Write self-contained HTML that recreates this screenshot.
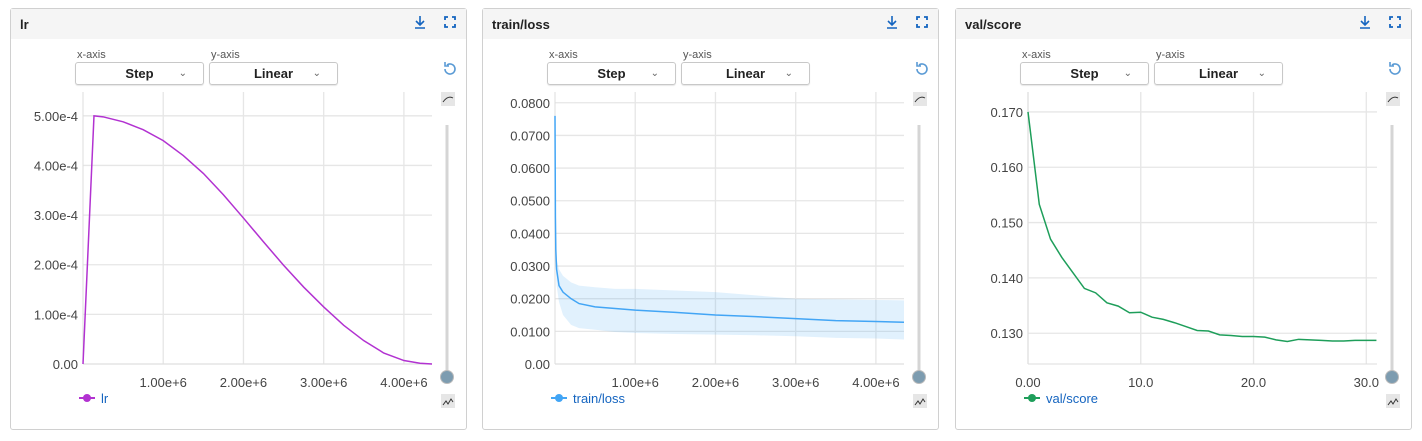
<!DOCTYPE html>
<html><head><meta charset="utf-8">
<style>
body{margin:0;width:1422px;height:441px;background:#fff;font-family:"Liberation Sans",sans-serif;overflow:hidden;position:relative}
.panel{position:absolute;top:8px;width:455px;height:420px;border:1px solid #d0d0d0;border-radius:3px;background:#fff}
.hdr{height:30px;background:#f5f5f5;position:relative}
.ttl{position:absolute;left:9px;top:8px;font-size:13px;font-weight:bold;color:#222}
.lbl{position:absolute;top:40px;font-size:11px;color:#555}
.dd{position:absolute;top:53px;width:127px;height:21px;border:1px solid #c8c8c8;border-radius:3px;font-size:13px;font-weight:bold;text-align:center;line-height:21px;color:#222;box-shadow:0 1px 1px rgba(0,0,0,.1)}
.dd span{position:absolute;right:16px;top:0;font-weight:normal;font-size:10px;color:#666}
svg{position:absolute;left:0;top:0}
</style></head><body>
<script>
const lrX=[0,0.137,0.25,0.5,0.75,1.0,1.25,1.5,1.75,2.0,2.25,2.5,2.75,3.0,3.25,3.5,3.75,4.0,4.2,4.35];
const lrY=[0,5.0,4.98,4.88,4.72,4.5,4.2,3.84,3.41,2.94,2.46,1.99,1.55,1.15,0.78,0.47,0.22,0.07,0.015,0];
const lossX=[0,0.005,0.01,0.02,0.05,0.1,0.2,0.3,0.5,0.75,1.0,1.5,2.0,2.5,3.0,3.5,4.0,4.35];
const lossY=[0.076,0.045,0.035,0.029,0.024,0.022,0.020,0.0185,0.0175,0.017,0.0165,0.0158,0.015,0.0145,0.0139,0.0133,0.013,0.0128];
const lossHi=[0.076,0.05,0.04,0.032,0.029,0.027,0.025,0.024,0.0235,0.023,0.023,0.0225,0.022,0.021,0.020,0.0198,0.0196,0.0195];
const lossLo=[0.076,0.04,0.03,0.024,0.019,0.015,0.012,0.011,0.0105,0.0098,0.0095,0.0092,0.009,0.0088,0.0085,0.008,0.0078,0.0075];
const valX=[0,1,2,3,4,5,6,7,8,9,10,11,12,13,14,15,16,17,18,19,20,21,22,23,24,25,26,27,28,29,30,30.9];
const valY=[0.170,0.1533,0.147,0.1437,0.1409,0.1381,0.1373,0.1355,0.1349,0.1337,0.1338,0.1329,0.1325,0.1319,0.1312,0.1305,0.1304,0.1297,0.1296,0.1294,0.1294,0.1293,0.1288,0.1285,0.1289,0.1288,0.1287,0.1286,0.1286,0.1287,0.1287,0.1287];
const lrTicksY=[0,1,2,3,4,5], lrTickLab=["0.00","1.00e-4","2.00e-4","3.00e-4","4.00e-4","5.00e-4"];
const bigTicksX=[1,2,3,4], bigTickLab=["1.00e+6","2.00e+6","3.00e+6","4.00e+6"];
const lossTicksY=[0,0.01,0.02,0.03,0.04,0.05,0.06,0.07,0.08], lossTickLab=["0.00","0.0100","0.0200","0.0300","0.0400","0.0500","0.0600","0.0700","0.0800"];
const valTicksY=[0.13,0.14,0.15,0.16,0.17], valTickLab=["0.130","0.140","0.150","0.160","0.170"];
const valTicksX=[0,10,20,30], valTickXLab=["0.00","10.0","20.0","30.0"];
const NS="http://www.w3.org/2000/svg";
function mk(tag,attrs,parent){const e=document.createElementNS(NS,tag);for(const k in attrs)e.setAttribute(k,attrs[k]);parent.appendChild(e);return e;}
function smoothPath(pts){
  let d='M'+pts[0][0]+' '+pts[0][1];
  for(let i=0;i<pts.length-1;i++){
    const p0=pts[Math.max(0,i-1)],p1=pts[i],p2=pts[i+1],p3=pts[Math.min(pts.length-1,i+2)];
    const c1=[p1[0]+(p2[0]-p0[0])/6,p1[1]+(p2[1]-p0[1])/6];
    const c2=[p2[0]-(p3[0]-p1[0])/6,p2[1]-(p3[1]-p1[1])/6];
    d+=' C'+c1[0]+' '+c1[1]+' '+c2[0]+' '+c2[1]+' '+p2[0]+' '+p2[1];
  }
  return d;
}
function panel(left,title,color,opt){
  const p=document.createElement('div');p.className='panel';p.style.left=left+'px';
  
  
  p.innerHTML='<div class="hdr"><div class="ttl">'+title+'</div></div>'+
  '<div class="lbl" style="left:66px">x-axis</div><div class="lbl" style="left:200px">y-axis</div>'+
  '<div class="dd" style="left:64px">Step<span>&#8964;</span></div><div class="dd" style="left:198px">Linear<span>&#8964;</span></div>';
  document.body.appendChild(p);
  const s=document.createElementNS(NS,'svg');s.setAttribute('width',455);s.setAttribute('height',420);p.appendChild(s);
  const X0=72,X1=421,Y0=355,Yt=83;
  const sx=v=>X0+(v-opt.xd[0])/(opt.xd[1]-opt.xd[0])*(X1-X0);
  const sy=v=>Y0-(v-opt.yd[0])/(opt.yd[1]-opt.yd[0])*(Y0-Yt);
  let g=mk('g',{stroke:'#1565c0','stroke-width':1.6,fill:'none'},s);
  
  mk('path',{d:'M409 7 v9 M405 12 l4 4 4-4 M404 19 h10'},g);
  g=mk('g',{stroke:'#1565c0','stroke-width':1.8,fill:'none'},s);
  
  mk('path',{d:'M434 11 v-3 h3 M441 8 h3 v3 M444 15 v3 h-3 M437 18 h-3 v-3'},g);
  g=mk('path',{d:'M434 60 a5 5 0 1 0 2 -4 M434 53 v4 h4',stroke:'#5b9bd5','stroke-width':1.6,fill:'none'},s);
  
  mk('rect',{x:430,y:83,width:14,height:14,fill:'#e6e6e6'},s);
  mk('path',{d:'M432 93 q5 -7 10 -4',stroke:'#333','stroke-width':1,fill:'none'},s);
  mk('rect',{x:434.5,y:116,width:3,height:252,fill:'#d5d5d5'},s);
  g=mk('circle',{cx:436,cy:368,r:6.5,fill:'#7d9cb0',stroke:'#bbb','stroke-width':1},s);
  
  mk('rect',{x:430,y:385,width:14,height:14,fill:'#e6e6e6'},s);
  mk('path',{d:'M432 396 l3 -4 2 3 3 -5 2 3',stroke:'#333','stroke-width':1,fill:'none'},s);
  opt.ty.forEach(v=>mk('line',{x1:X0,x2:X1,y1:sy(v),y2:sy(v),stroke:'#e6e6e6','stroke-width':1.3},s));
  opt.tx.forEach(v=>mk('line',{x1:sx(v),x2:sx(v),y1:Yt,y2:Y0,stroke:'#e6e6e6','stroke-width':1.3},s));
  mk('line',{x1:X0,x2:X0,y1:Yt,y2:Y0,stroke:'#ddd'},s);
  mk('line',{x1:X0,x2:X1,y1:Y0,y2:Y0,stroke:'#ddd'},s);
  opt.ty.forEach((v,i)=>{const t=mk('text',{x:X0-5,y:sy(v)+5,'text-anchor':'end','font-size':13,fill:'#444'},s);t.textContent=opt.tyl[i];
    
    });
  opt.tx.forEach((v,i)=>{const t=mk('text',{x:sx(v),y:378,'text-anchor':'middle','font-size':13,fill:'#444'},s);t.textContent=opt.txl[i];
    
    });
  if(opt.hi){let d='M'+opt.xs.map((x,i)=>sx(x)+' '+sy(opt.hi[i])).join(' L');
    for(let i=opt.xs.length-1;i>=0;i--)d+=' L'+sx(opt.xs[i])+' '+sy(opt.lo[i]);
    const b=mk('path',{d:d+'Z',fill:color,'fill-opacity':0.16},s);
    
    }
  const pts=opt.xs.map((x,i)=>[sx(x),sy(opt.ys[i])]);
  const ln=mk('path',{d:opt.smooth?smoothPath(pts):'M'+pts.map(q=>q.join(' ')).join(' L'),fill:'none',stroke:color,'stroke-width':1.5},s);
  
  
  const lg=mk('g',{},s);
  
  
  mk('line',{x1:68,x2:84,y1:389,y2:389,stroke:color,'stroke-width':2},lg);
  mk('circle',{cx:76,cy:389,r:4,fill:color},lg);
  const lt=mk('text',{x:90,y:394,'font-size':13,fill:'#1565c0'},lg);lt.textContent=title;
}
panel(10,'lr','#b232d1',{xd:[0,4.35],yd:[0,5.48],xs:lrX,ys:lrY,ty:lrTicksY,tyl:lrTickLab,tx:bigTicksX,txl:bigTickLab,smooth:false});
panel(482,'train/loss','#42a5f5',{xd:[0,4.35],yd:[0,0.0833],xs:lossX,ys:lossY,hi:lossHi,lo:lossLo,ty:lossTicksY,tyl:lossTickLab,tx:bigTicksX,txl:bigTickLab});
panel(955,'val/score','#1e9e5a',{xd:[0,30.95],yd:[0.12444,0.1736],xs:valX,ys:valY,ty:valTicksY,tyl:valTickLab,tx:valTicksX,txl:valTickXLab});
</script>
</body></html>
